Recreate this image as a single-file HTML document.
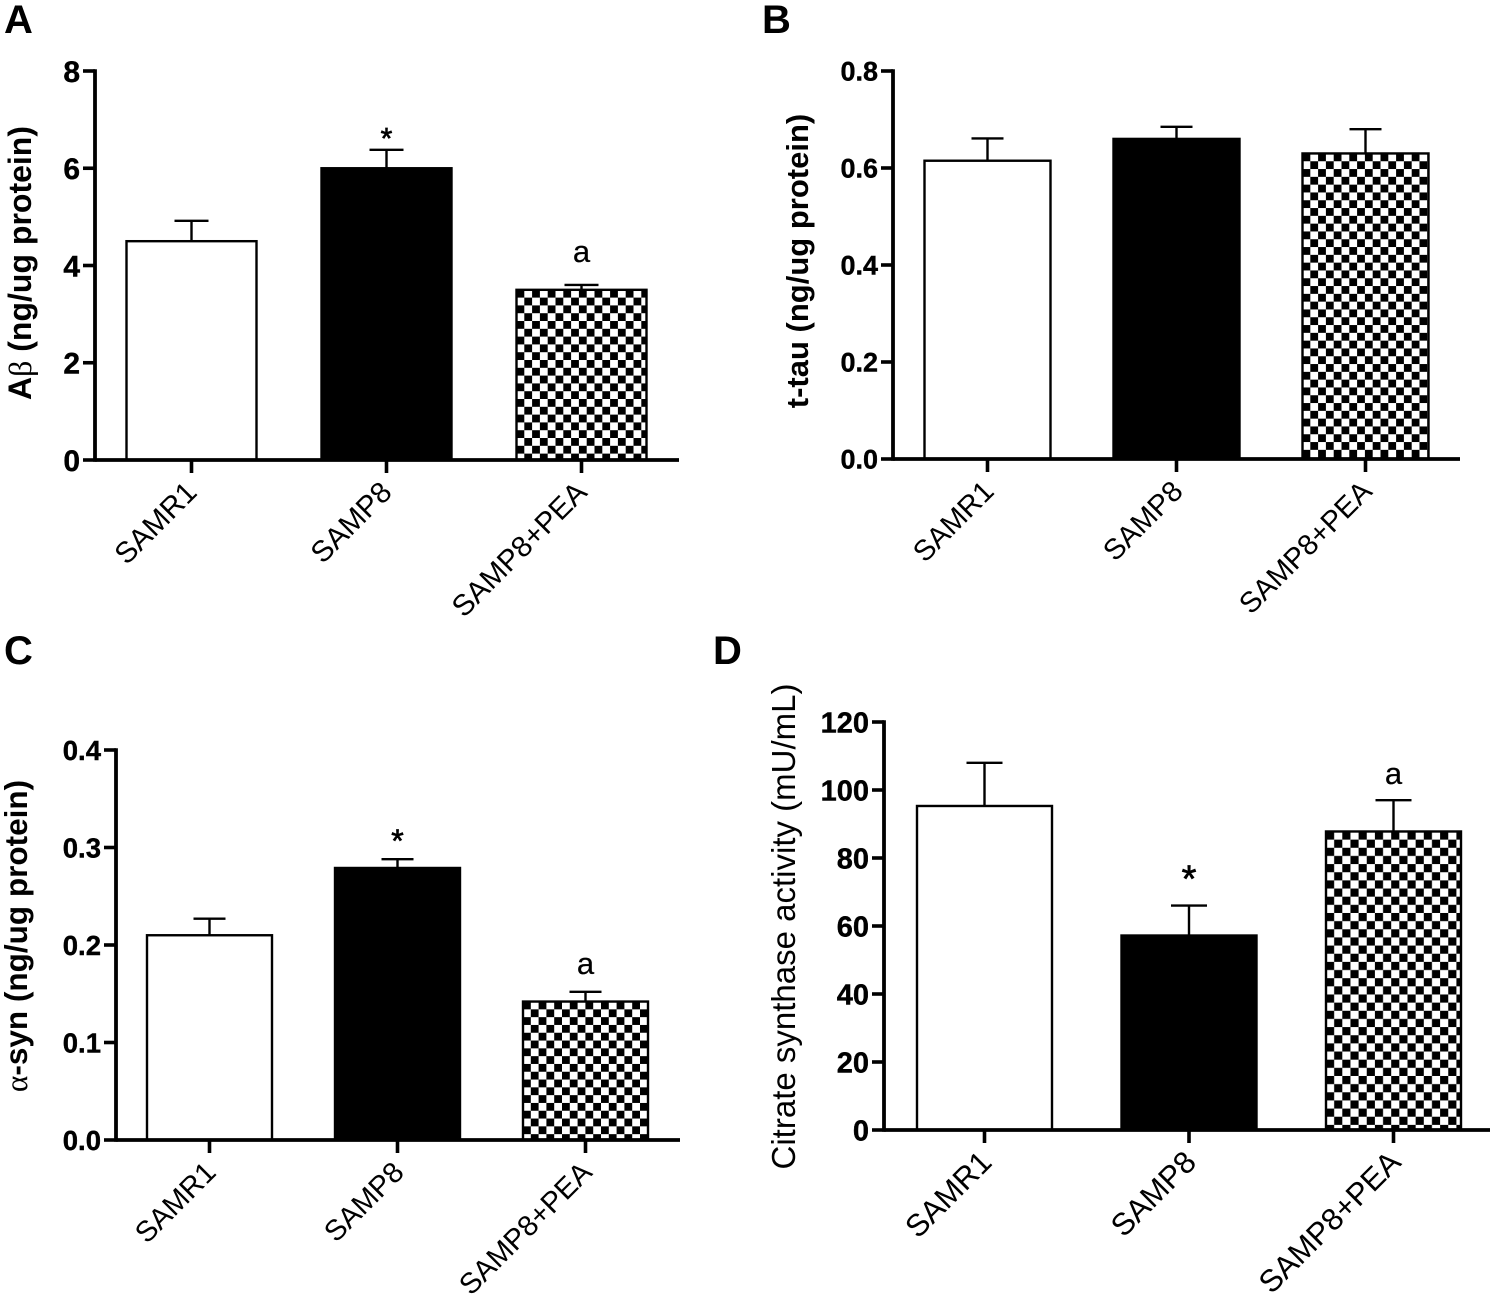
<!DOCTYPE html>
<html lang="en">
<head>
<meta charset="utf-8">
<title>Four bar chart panels</title>
<style>
html,body{margin:0;padding:0;background:#fff;width:1500px;height:1304px;overflow:hidden}
svg{display:block}
text{font-family:"Liberation Sans",sans-serif;fill:#000}
</style>
</head>
<body>
<svg id="figure" xmlns="http://www.w3.org/2000/svg" width="1500" height="1304" viewBox="0 0 1500 1304"></svg>
<script>
var categories = ['SAMR1', 'SAMP8', 'SAMP8+PEA'];

var valuesA = [4.5, 6.0, 3.5];
var errorTopsA = [4.92, 6.38, 3.6];
var ticksA = ['0', '2', '4', '6', '8'];
var marksA = ['', '*', 'a'];

var valuesB = [0.615, 0.66, 0.63];
var errorTopsB = [0.661, 0.685, 0.68];
var ticksB = ['0.0', '0.2', '0.4', '0.6', '0.8'];
var marksB = ['', '', ''];

var valuesC = [0.21, 0.279, 0.142];
var errorTopsC = [0.227, 0.288, 0.152];
var ticksC = ['0.0', '0.1', '0.2', '0.3', '0.4'];
var marksC = ['', '*', 'a'];

var valuesD = [95.3, 57.2, 87.8];
var errorTopsD = [108, 66, 97];
var ticksD = ['0', '20', '40', '60', '80', '100', '120'];
var marksD = ['', '*', 'a'];

var NS = 'http://www.w3.org/2000/svg';
var svg = document.getElementById('figure');

function make(tag, attrs, parent, content) {
  var el = document.createElementNS(NS, tag);
  for (var k in attrs) { el.setAttribute(k, attrs[k]); }
  if (content !== undefined) { el.textContent = content; }
  (parent || svg).appendChild(el);
  return el;
}

function addPattern(id, cell, ox, oy) {
  var defs = make('defs', {}, svg);
  var p = make('pattern', {id: id, patternUnits: 'userSpaceOnUse', width: cell * 2, height: cell * 2, x: ox, y: oy}, defs);
  make('rect', {width: cell * 2, height: cell * 2, fill: '#fff'}, p);
  make('rect', {width: cell, height: cell, fill: '#000'}, p);
  make('rect', {x: cell, y: cell, width: cell, height: cell, fill: '#000'}, p);
}

function drawPanel(cfg) {
  var g = make('g', {}, svg);
  
  

  var maxVal = parseFloat(cfg.ticks[cfg.ticks.length - 1]);
  var yScale = function (v) { return cfg.y0 - (v / maxVal) * (cfg.y0 - cfg.yTop); };
  var xScale = function (i) { return cfg.firstCenter + i * cfg.step; };

  var letter = make('text', {x: cfg.letterX, y: cfg.letterY, 'font-size': 40, 'font-weight': 'bold'}, g, cfg.key.toUpperCase());
  
  

  addPattern('check-' + cfg.key, cfg.cell, cfg.firstCenter + 2 * cfg.step - cfg.barW / 2, yScale(cfg.values[2]));

  cfg.values.forEach(function (v, i) {
    var cx = xScale(i);
    var top = yScale(v);
    var eTop = yScale(cfg.errorTops[i]);

    var stem = make('line', {x1: cx, x2: cx, y1: eTop, y2: top, stroke: '#000', 'stroke-width': 2.4}, g);
    
    
    var cap = make('line', {x1: cx - cfg.capW, x2: cx + cfg.capW, y1: eTop, y2: eTop, stroke: '#000', 'stroke-width': 2.4}, g);
    
    

    var fill = i === 0 ? '#fff' : (i === 1 ? '#000' : 'url(#check-' + cfg.key + ')');
    var bar = make('rect', {x: cx - cfg.barW / 2, y: top, width: cfg.barW, height: cfg.y0 - top, fill: fill, stroke: '#000', 'stroke-width': 2.4}, g);
    
    

    if (cfg.marks[i]) {
      var isStar = cfg.marks[i] === '*';
      var mark = make('text', {x: cx, y: eTop - (isStar ? cfg.starGap : cfg.aGap), 'text-anchor': 'middle', 'font-size': isStar ? cfg.starSize : 31, stroke: '#000', 'stroke-width': isStar ? 0.7 : 0.2}, g, cfg.marks[i]);
      
      
    }

    var t = make('line', {x1: cx, x2: cx, y1: cfg.y0, y2: cfg.y0 + 13, stroke: '#000', 'stroke-width': 3.6}, g);
    
    

    var lx = cx + cfg.labelDx, ly = cfg.y0 + cfg.labelDy;
    var lab = make('text', {x: lx, y: ly, 'text-anchor': 'end', 'font-size': cfg.labelSize, transform: 'rotate(-45 ' + lx + ' ' + ly + ')'}, g, categories[i]);
    
    
  });

  var yAxis = make('line', {x1: cfg.axisX, x2: cfg.axisX, y1: cfg.yTop - 1.8, y2: cfg.y0 + 1.8, stroke: '#000', 'stroke-width': 3.8}, g);
  
  
  var xAxis = make('line', {x1: cfg.axisX, x2: cfg.axisEnd, y1: cfg.y0, y2: cfg.y0, stroke: '#000', 'stroke-width': 3.8}, g);
  
  

  cfg.ticks.forEach(function (label) {
    var y = yScale(parseFloat(label));
    var t = make('line', {x1: cfg.axisX - 12, x2: cfg.axisX, y1: y, y2: y, stroke: '#000', 'stroke-width': 3.6}, g);
    
    
    var tl = make('text', {x: cfg.axisX - 15, y: y + cfg.tickSize * 0.36, 'text-anchor': 'end', 'font-size': cfg.tickSize, 'font-weight': 'bold', stroke: '#000', 'stroke-width': 0.4}, g, label);
    
    
  });

  var title = make('text', {x: cfg.titleX, y: cfg.titleY, 'text-anchor': 'middle', 'font-size': cfg.titleSize, 'font-weight': cfg.titleWeight, transform: 'rotate(-90 ' + cfg.titleX + ' ' + cfg.titleY + ')'}, g);
  
  
  cfg.title.forEach(function (part) {
    var s = make('tspan', part.greek ? {'font-family': '"Liberation Serif", serif', 'font-weight': 'normal'} : {}, title, part.text);
    
    
  });
}

drawPanel({key: 'a', values: valuesA, errorTops: errorTopsA, ticks: ticksA, marks: marksA,
  axisX: 95, axisEnd: 679, y0: 460, yTop: 71, firstCenter: 191.5, step: 195, barW: 130, capW: 17, cell: 7.8,
  letterX: 4, letterY: 33, titleX: 31, titleY: 263, titleSize: 32, titleWeight: 'bold', tickSize: 30,
  title: [{text: 'A'}, {text: 'β', greek: true}, {text: ' (ng/ug protein)'}],
  labelDx: 7, labelDy: 34, labelSize: 29.5, starGap: 1.5, aGap: 23, starSize: 30});

drawPanel({key: 'b', values: valuesB, errorTops: errorTopsB, ticks: ticksB, marks: marksB,
  axisX: 893, axisEnd: 1460, y0: 459, yTop: 71, firstCenter: 987.5, step: 189, barW: 126, capW: 16, cell: 7.8,
  letterX: 762, letterY: 33, titleX: 808, titleY: 261, titleSize: 31, titleWeight: 'bold', tickSize: 27,
  title: [{text: 't-tau (ng/ug protein)'}],
  labelDx: 8, labelDy: 34, labelSize: 29, starGap: 1, aGap: 23, starSize: 30});

drawPanel({key: 'c', values: valuesC, errorTops: errorTopsC, ticks: ticksC, marks: marksC,
  axisX: 116, axisEnd: 680, y0: 1140, yTop: 750, firstCenter: 209.5, step: 188, barW: 125, capW: 16, cell: 7.8,
  letterX: 4, letterY: 664, titleX: 27, titleY: 936, titleSize: 31.5, titleWeight: 'bold', tickSize: 27.5,
  title: [{text: 'α', greek: true}, {text: '-syn (ng/ug protein)'}],
  labelDx: 8, labelDy: 34, labelSize: 29, starGap: 7, aGap: 18, starSize: 32});

drawPanel({key: 'd', values: valuesD, errorTops: errorTopsD, ticks: ticksD, marks: marksD,
  axisX: 884, axisEnd: 1490, y0: 1130, yTop: 722, firstCenter: 984.5, step: 204.5, barW: 135, capW: 18, cell: 8.15,
  letterX: 713, letterY: 664, titleX: 795, titleY: 926.5, titleSize: 33, titleWeight: 'normal', tickSize: 29,
  title: [{text: 'Citrate synthase activity (mU/mL)'}],
  labelDx: 9, labelDy: 34, labelSize: 31, starGap: 14, aGap: 16, starSize: 38});
</script>
</body>
</html>
